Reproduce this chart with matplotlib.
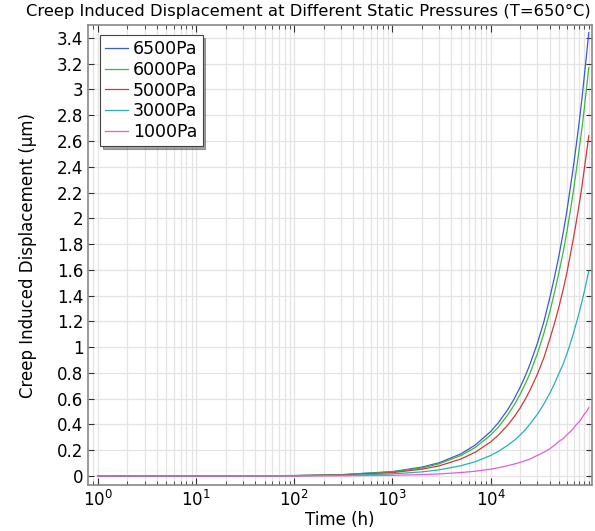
import numpy as np
import matplotlib.pyplot as plt
from matplotlib.ticker import FixedLocator, NullFormatter, MultipleLocator, LogFormatterSciNotation

# time samples (h) and displacement (um)
time_h = [1, 10, 100, 300, 1000, 2000, 3000, 5000, 7000, 10000, 12000, 15000, 17500,
          20000, 22500, 25000, 30000, 35000, 40000, 45000, 50000, 55000, 60000, 65000,
          70000, 75000, 80000, 85000, 90000, 95000, 100000]

disp_6500 = [0, 0.0003, 0.0034, 0.010, 0.034, 0.069, 0.103, 0.172, 0.241, 0.344, 0.413,
             0.516, 0.602, 0.688, 0.774, 0.86, 1.03, 1.20, 1.38, 1.55, 1.72, 1.89, 2.06,
             2.24, 2.41, 2.58, 2.75, 2.92, 3.10, 3.27, 3.44]
disp_6000 = [0, 0.0003, 0.0032, 0.0095, 0.032, 0.063, 0.095, 0.159, 0.222, 0.317, 0.380,
             0.476, 0.555, 0.634, 0.713, 0.79, 0.95, 1.11, 1.27, 1.43, 1.59, 1.74, 1.90,
             2.06, 2.22, 2.38, 2.54, 2.69, 2.85, 3.01, 3.17]
disp_5000 = [0, 0.0003, 0.0026, 0.008, 0.026, 0.053, 0.079, 0.132, 0.185, 0.264, 0.317,
             0.396, 0.462, 0.528, 0.594, 0.66, 0.79, 0.92, 1.06, 1.19, 1.32, 1.45, 1.58,
             1.72, 1.85, 1.98, 2.11, 2.24, 2.38, 2.51, 2.64]
disp_3000 = [0, 0.0002, 0.0016, 0.0048, 0.016, 0.032, 0.048, 0.080, 0.111, 0.159, 0.191,
             0.239, 0.278, 0.318, 0.358, 0.40, 0.48, 0.56, 0.64, 0.72, 0.80, 0.87, 0.95,
             1.03, 1.11, 1.19, 1.27, 1.35, 1.43, 1.51, 1.59]
disp_1000 = [0, 0.0001, 0.0005, 0.0016, 0.0053, 0.011, 0.016, 0.027, 0.037, 0.053, 0.064,
             0.080, 0.093, 0.106, 0.119, 0.13, 0.16, 0.185, 0.21, 0.24, 0.27, 0.29, 0.32,
             0.345, 0.37, 0.40, 0.42, 0.45, 0.48, 0.50, 0.53]

labels = ['6500Pa', '6000Pa', '5000Pa', '3000Pa', '1000Pa']
colors = ['#3a5ccc', '#3cb83c', '#cc3a3a', '#2ab0b0', '#e060d0']
series = [disp_6500, disp_6000, disp_5000, disp_3000, disp_1000]

plt.rcParams['font.family'] = 'DejaVu Sans'
fs = 12

fig = plt.figure(figsize=(5.95, 5.31), dpi=100)
ax = fig.add_axes([0.1484, 0.0866, 0.8466, 0.8663])

for vals, lab, c in zip(series, labels, colors):
    ax.plot(time_h, vals, color=c, lw=0.9, label=lab)

ax.set_xscale('log')
ax.set_xlim(0.8, 1.08e5)
ax.set_ylim(-0.07, 3.50)
ax.yaxis.set_major_locator(MultipleLocator(0.2))
ax.set_yticklabels([f'{v:g}' for v in np.round(ax.get_yticks(), 1)])

major_x = [1, 10, 100, 1000, 10000]
minor_x = [0.9] + [m * 10 ** d for d in range(0, 5) for m in range(2, 10)] + [1e5]
ax.xaxis.set_major_locator(FixedLocator(major_x))
ax.xaxis.set_major_formatter(LogFormatterSciNotation())
ax.xaxis.set_minor_locator(FixedLocator(minor_x))
ax.xaxis.set_minor_formatter(NullFormatter())

ax.tick_params(which='both', direction='in', top=True, right=True,
               labelsize=fs, color='#333333')
ax.tick_params(which='major', length=5)
ax.tick_params(which='minor', length=3)
ax.tick_params(axis='y', which='major', length=4)

ax.grid(True, which='major', color='#e4e4e4', lw=0.9)
ax.grid(True, which='minor', axis='x', color='#e4e4e4', lw=0.9)
ax.set_axisbelow(True)
for s in ax.spines.values():
    s.set_color('#888888')
    s.set_linewidth(1.2)

fig.text(0.518, 0.978, 'Creep Induced Displacement at Different Static Pressures (T=650°C)',
         fontsize=11.8, ha='center', va='center')
ax.set_xlabel('Time (h)', fontsize=fs, labelpad=1)
ax.set_ylabel('Creep Induced Displacement (µm)', fontsize=fs, labelpad=14)

leg = ax.legend(loc='upper left', fontsize=12.5, fancybox=False, shadow=True,
                framealpha=1, edgecolor='#444444', handlelength=1.3,
                borderpad=0.3, labelspacing=0.15, handletextpad=0.3,
                borderaxespad=0, bbox_to_anchor=(0.023, 0.978))
leg.get_frame().set_linewidth(0.8)

fig.savefig('out.png', dpi=100)
